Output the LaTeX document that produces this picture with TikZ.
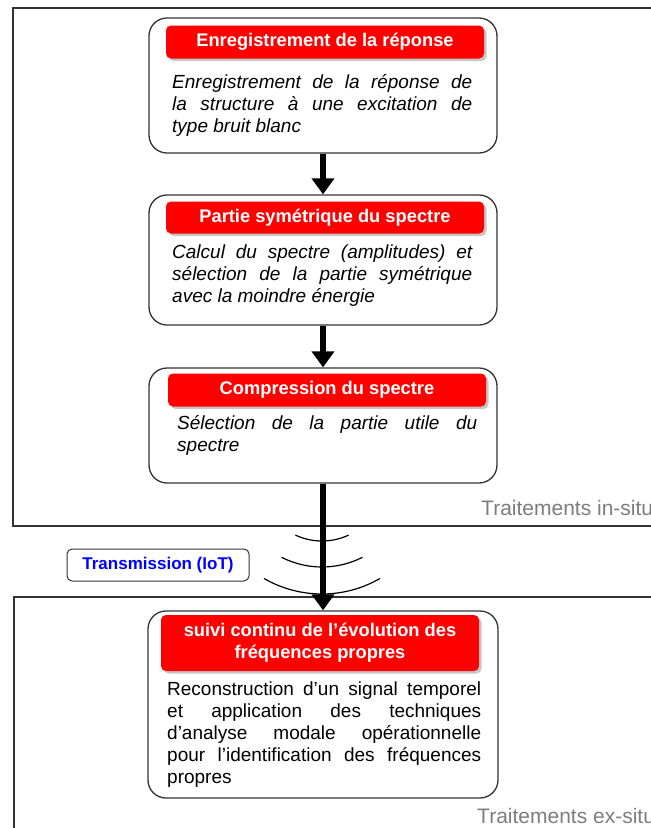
\documentclass[tikz,border=0pt]{standalone}
\usepackage{fontspec}
\setmainfont{Liberation Sans}
\usetikzlibrary{arrows.meta,shadows}
\definecolor{headred}{RGB}{255,0,0}
\definecolor{framegray}{RGB}{50,50,50}
\definecolor{zonegray}{RGB}{125,125,125}
\definecolor{iotblue}{RGB}{0,0,255}
\begin{document}
\begin{tikzpicture}[x=1pt,y=1pt,
 stepbox/.style={draw=framegray,line width=1.3pt,rounded corners=18pt,minimum width=348pt},
 header/.style={fill=headred,rounded corners=5pt,minimum width=318pt,text=white,align=center,
   font=\bfseries\fontsize{18.3}{22}\selectfont,drop shadow={shadow xshift=2.5pt,shadow yshift=-2.5pt,opacity=0.45}},
 body/.style={anchor=north west,inner sep=0pt,text width=300pt,align=justify,font=\itshape\fontsize{19}{22}\selectfont},
 flow/.style={-{Triangle[width=22pt,length=16pt]},line width=6.5pt},
 frame/.style={draw=framegray,line width=1.4pt},
 zone/.style={anchor=base west,text=zonegray,font=\fontsize{21}{24}\selectfont,inner sep=0pt},
 wave/.style={line width=1.2pt}]
 \useasboundingbox(0,0)rectangle(651,-828);
 \clip(0,0)rectangle(651,-828);
 % zones
 \draw[frame](700,-8)--(13,-8)--(13,-526)--(700,-526);
 \draw[frame](700,-597)--(14,-597)--(14,-860);
 \node[zone](insitu)at(481,-515){Traitements in-situ};
 \node[zone](exsitu)at(477,-823){Traitements ex-situ};
 % step 1
 \node[stepbox,minimum height=135pt](rec)at(323,-85.5){};
 \node[header,minimum height=33pt](recT)at(325,-42){Enregistrement de la réponse};
 \node[body](recB)at(172,-74){Enregistrement de la réponse de\linebreak la structure à une excitation de\linebreak type bruit blanc};
 % step 2
 \node[stepbox,minimum height=130pt](sym)at(323,-260){};
 \node[header,minimum height=32pt](symT)at(325,-217.5){Partie symétrique du spectre};
 \node[body](symB)at(172,-245){Calcul du spectre (amplitudes) et\linebreak sélection de la partie symétrique\linebreak avec la moindre énergie};
 % step 3
 \node[stepbox,minimum height=115pt](comp)at(323,-425.5){};
 \node[header,minimum height=33pt](compT)at(327,-390){Compression du spectre};
 \node[body](compB)at(177,-415){Sélection de la partie utile du\linebreak spectre};
 % step 4
 \node[stepbox,minimum width=350pt,minimum height=187pt](suivi)at(323,-704.5){};
 \node[header,minimum height=56pt](suiviT)at(320,-643){suivi continu de l’évolution des\\fréquences propres};
 \node[body,text width=314pt,font=\fontsize{19}{22}\selectfont](suiviB)at(167,-682){Reconstruction d’un signal temporel\linebreak et application des techniques\linebreak d’analyse modale opérationnelle\linebreak pour l’identification des fréquences\linebreak propres};
 % transmission
 \node[draw=framegray,line width=1pt,rounded corners=5pt,minimum width=182pt,minimum height=32pt,
   text=iotblue,font=\bfseries\fontsize{17}{20}\selectfont](iot)at(158,-565){Transmission (IoT)};
 \coordinate(ant)at(322,-478);
 \draw[wave](ant)++(-115:63)arc(-115:-65:63);
 \draw[wave](ant)++(-117:89)arc(-117:-63:89);
 \draw[wave](ant)++(-120:116)arc(-120:-60:116);
 % arrows
 \path(rec.south)edge[flow](sym.north);
 \path(sym.south)edge[flow](comp.north);
 \path(comp.south)edge[flow](suivi.north);
\end{tikzpicture}
\end{document}
